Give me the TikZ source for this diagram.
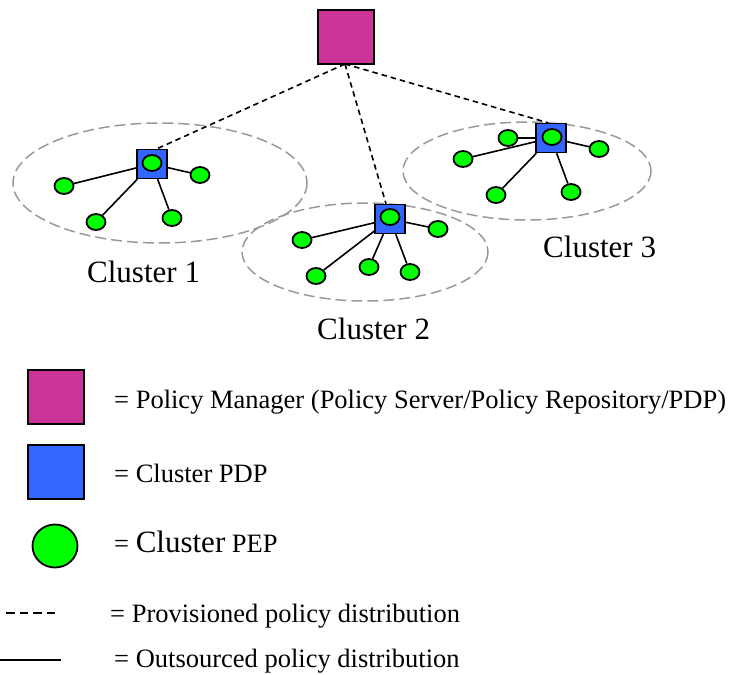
\documentclass[tikz,border=0pt]{standalone}
\usepackage{fontspec}
\setmainfont{Liberation Serif}
\usetikzlibrary{shapes.geometric}
\definecolor{pmcol}{HTML}{CC3399}
\definecolor{pdpcol}{HTML}{3366FF}
\definecolor{pepcol}{HTML}{00FF00}
\definecolor{clgray}{HTML}{999999}
\begin{document}
\begin{tikzpicture}[x=1pt,y=-1pt,
  pmbox/.style={draw=black,line width=1.8pt,fill=pmcol,minimum width=56pt,minimum height=54pt,inner sep=0pt},
  pdpbox/.style={draw=black,line width=1.5pt,fill=pdpcol,minimum width=30pt,minimum height=29pt,inner sep=0pt},
  pep/.style={ellipse,draw=black,line width=1.8pt,fill=pepcol,minimum width=19pt,minimum height=16pt,inner sep=0pt},
  cluster/.style={draw=clgray,line width=1.5pt,dash pattern=on 11pt off 5pt},
  prov/.style={draw=black,line width=1.6pt,dash pattern=on 5.5pt off 4pt},
  outs/.style={draw=black,line width=1.6pt},
  lbl/.style={inner sep=0pt,anchor=base west,font=\fontsize{31}{36}\selectfont},
  legtxt/.style={inner sep=0pt,anchor=base west,font=\fontsize{26.5}{32}\selectfont}
]
\useasboundingbox (0,0) rectangle (735,674);

% cluster ellipses
\draw[cluster] (160,183) ellipse [x radius=147, y radius=60];
\draw[cluster] (365,252) ellipse [x radius=123, y radius=49];
\draw[cluster] (527,171) ellipse [x radius=124, y radius=49];

% nodes
\node[pmbox] (pm) at (346,37) {};
\node[pdpbox] (pdp1) at (152,164) {};
\node[pdpbox] (pdp2) at (390,219) {};
\node[pdpbox] (pdp3) at (551,138) {};

\coordinate (pmfoot) at (345,64);

% PEPs cluster 1
\node[pep] (c1a) at (64,186) {};
\node[pep] (c1b) at (200,175) {};
\node[pep] (c1c) at (96,222) {};
\node[pep] (c1d) at (172,218) {};
% PEPs cluster 2
\node[pep] (c2a) at (302,240) {};
\node[pep] (c2b) at (438,229) {};
\node[pep] (c2c) at (316,276) {};
\node[pep] (c2d) at (369,267) {};
\node[pep] (c2e) at (410,272) {};
% PEPs cluster 3
\node[pep] (c3a) at (508,138) {};
\node[pep] (c3b) at (599,149) {};
\node[pep] (c3c) at (463,159) {};
\node[pep] (c3d) at (496,195) {};
\node[pep] (c3e) at (571,192) {};

% provisioned (dashed)
\draw[prov] (pmfoot) -- ([xshift=5pt]pdp1.north);
\draw[prov] (pmfoot) -- ([xshift=-4pt]pdp2.north);
\draw[prov] (pmfoot) -- ([xshift=-3pt]pdp3.north);

% outsourced (solid)
\foreach \p in {c1a,c1b,c1c,c1d} \draw[outs] (pdp1) -- (\p);
\foreach \p in {c2a,c2b,c2c,c2d,c2e} \draw[outs] (pdp2) -- (\p);
\foreach \p in {c3a,c3b,c3c,c3d,c3e} \draw[outs] (pdp3) -- (\p);

% redraw PDPs on top with inner PEPs
\node[pdpbox] at (pdp1) {};
\node[pdpbox] at (pdp2) {};
\node[pdpbox] at (pdp3) {};
\node[pep] (i1) at (152,163) {};
\node[pep] (i2) at (390,217) {};
\node[pep] (i3) at (552,137) {};

% cluster labels
\node[lbl] (l1) at (87,282) {Cluster 1};
\node[lbl] (l2) at (317,339) {Cluster 2};
\node[lbl] (l3) at (543,257) {Cluster 3};

% legend
\node[pmbox] (lpm) at (56,397) {};
\node[legtxt] (tpm) at (114,408) {= Policy Manager (Policy Server/Policy Repository/PDP)};
\node[pdpbox,minimum width=56pt,minimum height=54pt,line width=1.8pt] (lpdp) at (56,472) {};
\node[legtxt] (tpdp) at (114,482) {= Cluster PDP};
\node[pep,minimum width=45pt,minimum height=43pt] (lpep) at (55,546) {};
\node[legtxt] (tpep) at (114,552) {= {\fontsize{31}{36}\selectfont Cluster} PEP};
\coordinate (d1) at (6,613);
\coordinate (d2) at (56,613);
\draw[draw=black,line width=1.3pt,dash pattern=on 8.5pt off 5pt] (d1) -- (d2);
\node[legtxt] (tprov) at (110,622) {= Provisioned policy distribution};
\coordinate (s1) at (0,660);
\coordinate (s2) at (61,660);
\draw[draw=black,line width=1.2pt] (s1) -- (s2);
\node[legtxt] (touts) at (114,667) {= Outsourced policy distribution};
\end{tikzpicture}
\end{document}
